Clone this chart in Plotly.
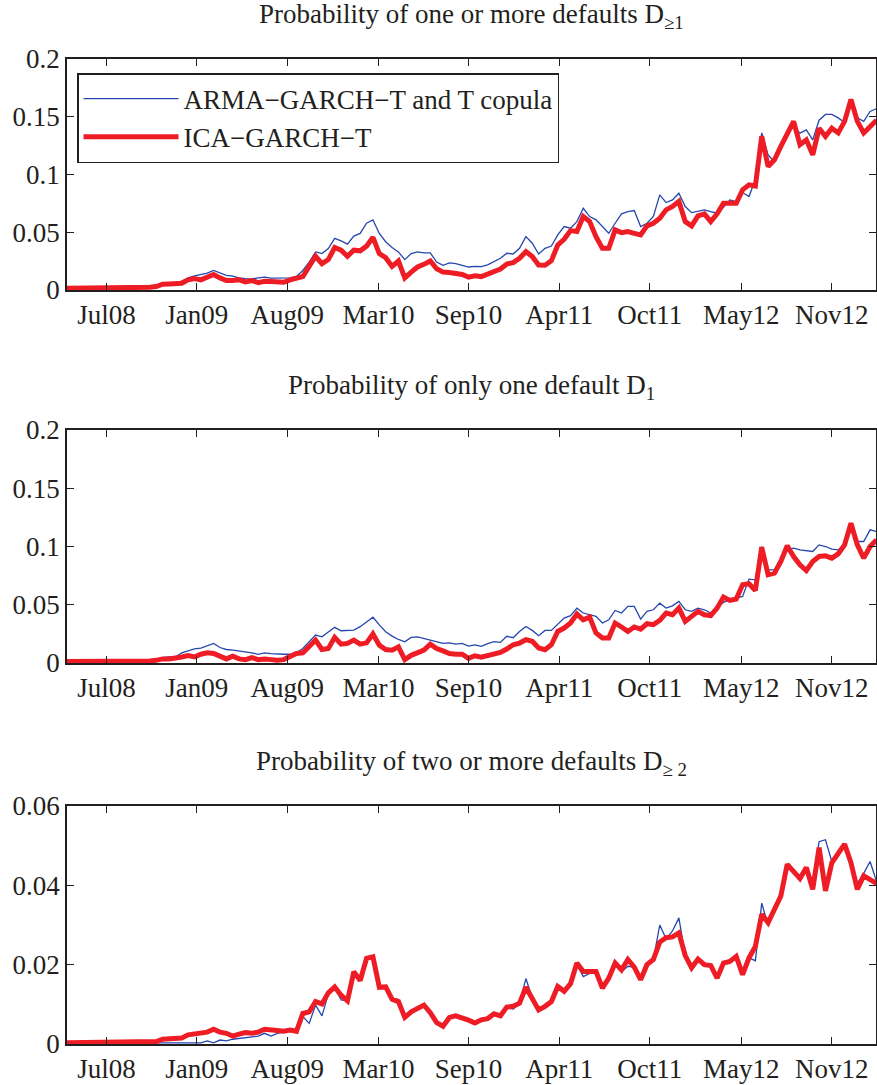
import pandas as pd
import plotly.graph_objects as go

# Observation dates: fortnightly sampling from April 2008 to early 2013
dates = pd.date_range("2008-04-19", periods=128, freq="14D")

tick_dates = ["2008-07-15", "2009-01-29", "2009-08-16", "2010-03-04", "2010-09-18",
              "2011-04-05", "2011-10-21", "2012-05-09", "2012-11-24"]
tick_labels = ["Jul08", "Jan09", "Aug09", "Mar10", "Sep10", "Apr11", "Oct11", "May12", "Nov12"]

# Probability of one or more defaults
ge1_copula = [
    0.0015, 0.0015, 0.0015, 0.0015, 0.0015, 0.0015, 0.0015, 0.0018, 0.0020, 0.0023,
    0.0020, 0.0020, 0.0020, 0.0023, 0.0030, 0.0050, 0.0055, 0.0060, 0.0076, 0.0105,
    0.0123, 0.0134, 0.0146, 0.0169, 0.0146, 0.0126, 0.0120, 0.0105, 0.0099, 0.0096,
    0.0105, 0.0111, 0.0102, 0.0102, 0.0102, 0.0105, 0.0117, 0.0169, 0.0242, 0.0330,
    0.0315, 0.0359, 0.0447, 0.0426, 0.0397, 0.0467, 0.0490, 0.0578, 0.0607, 0.0490,
    0.0418, 0.0368, 0.0330, 0.0263, 0.0315, 0.0330, 0.0321, 0.0321, 0.0242, 0.0213,
    0.0234, 0.0228, 0.0213, 0.0199, 0.0204, 0.0202, 0.0217, 0.0246, 0.0275, 0.0318,
    0.0312, 0.0361, 0.0462, 0.0405, 0.0312, 0.0361, 0.0381, 0.0477, 0.0549, 0.0535,
    0.0592, 0.0708, 0.0636, 0.0607, 0.0549, 0.0491, 0.0578, 0.0659, 0.0679, 0.0688,
    0.0549, 0.0578, 0.0636, 0.0824, 0.0757, 0.0780, 0.0838, 0.0723, 0.0670, 0.0679,
    0.0694, 0.0679, 0.0665, 0.0717, 0.0780, 0.0766, 0.0844, 0.0809, 0.0954, 0.1360,
    0.1170, 0.1110, 0.1243, 0.1358, 0.1416, 0.1358, 0.1387, 0.1300, 0.1470, 0.1520,
    0.1520, 0.1490, 0.1450, 0.1630, 0.1490, 0.1460, 0.1546, 0.1570,
]
ge1_ica = [
    0.0015, 0.0015, 0.0015, 0.0015, 0.0015, 0.0015, 0.0015, 0.0018, 0.0020, 0.0023,
    0.0020, 0.0020, 0.0020, 0.0023, 0.0030, 0.0050, 0.0053, 0.0053, 0.0058, 0.0088,
    0.0099, 0.0088, 0.0117, 0.0134, 0.0105, 0.0082, 0.0082, 0.0088, 0.0070, 0.0082,
    0.0064, 0.0076, 0.0073, 0.0070, 0.0067, 0.0088, 0.0105, 0.0117, 0.0204, 0.0292,
    0.0228, 0.0263, 0.0368, 0.0345, 0.0292, 0.0345, 0.0339, 0.0380, 0.0456, 0.0315,
    0.0280, 0.0204, 0.0251, 0.0105, 0.0155, 0.0199, 0.0222, 0.0251, 0.0184, 0.0155,
    0.0152, 0.0146, 0.0134, 0.0111, 0.0123, 0.0116, 0.0139, 0.0153, 0.0182, 0.0225,
    0.0237, 0.0275, 0.0332, 0.0289, 0.0217, 0.0214, 0.0254, 0.0390, 0.0439, 0.0514,
    0.0506, 0.0636, 0.0592, 0.0462, 0.0361, 0.0361, 0.0520, 0.0497, 0.0506, 0.0491,
    0.0477, 0.0555, 0.0578, 0.0621, 0.0694, 0.0723, 0.0766, 0.0592, 0.0555, 0.0642,
    0.0659, 0.0592, 0.0659, 0.0751, 0.0751, 0.0751, 0.0867, 0.0910, 0.0900, 0.1330,
    0.1070, 0.1127, 0.1243, 0.1358, 0.1460, 0.1257, 0.1300, 0.1170, 0.1400, 0.1330,
    0.1400, 0.1360, 0.1460, 0.1650, 0.1460, 0.1360, 0.1416, 0.1470,
]

# Probability of exactly one default
eq1_copula = [
    0.0012, 0.0012, 0.0012, 0.0012, 0.0012, 0.0012, 0.0012, 0.0017, 0.0017, 0.0017,
    0.0017, 0.0017, 0.0017, 0.0017, 0.0025, 0.0046, 0.0052, 0.0052, 0.0087, 0.0104,
    0.0121, 0.0127, 0.0145, 0.0168, 0.0133, 0.0116, 0.0110, 0.0104, 0.0092, 0.0087,
    0.0075, 0.0087, 0.0081, 0.0075, 0.0075, 0.0075, 0.0087, 0.0124, 0.0182, 0.0240,
    0.0225, 0.0269, 0.0306, 0.0277, 0.0283, 0.0283, 0.0312, 0.0355, 0.0393, 0.0327,
    0.0269, 0.0231, 0.0202, 0.0182, 0.0220, 0.0225, 0.0211, 0.0202, 0.0182, 0.0168,
    0.0173, 0.0162, 0.0168, 0.0145, 0.0155, 0.0143, 0.0166, 0.0183, 0.0177, 0.0229,
    0.0217, 0.0271, 0.0314, 0.0280, 0.0234, 0.0280, 0.0280, 0.0329, 0.0386, 0.0406,
    0.0470, 0.0429, 0.0417, 0.0400, 0.0343, 0.0371, 0.0451, 0.0429, 0.0486, 0.0486,
    0.0377, 0.0443, 0.0457, 0.0514, 0.0471, 0.0491, 0.0529, 0.0457, 0.0443, 0.0471,
    0.0457, 0.0429, 0.0486, 0.0520, 0.0543, 0.0557, 0.0571, 0.0720, 0.0714, 0.1000,
    0.0800, 0.0800, 0.0900, 0.0971, 0.0986, 0.0971, 0.0966, 0.0957, 0.1014, 0.1000,
    0.0977, 0.0971, 0.1014, 0.1200, 0.1043, 0.1043, 0.1143, 0.1129,
]
eq1_ica = [
    0.0012, 0.0012, 0.0012, 0.0012, 0.0012, 0.0012, 0.0012, 0.0017, 0.0017, 0.0017,
    0.0017, 0.0017, 0.0017, 0.0017, 0.0023, 0.0035, 0.0035, 0.0040, 0.0052, 0.0064,
    0.0052, 0.0075, 0.0087, 0.0081, 0.0058, 0.0035, 0.0058, 0.0035, 0.0029, 0.0046,
    0.0029, 0.0035, 0.0029, 0.0023, 0.0029, 0.0058, 0.0081, 0.0087, 0.0139, 0.0197,
    0.0116, 0.0124, 0.0220, 0.0162, 0.0168, 0.0197, 0.0162, 0.0173, 0.0249, 0.0153,
    0.0116, 0.0110, 0.0139, 0.0029, 0.0066, 0.0087, 0.0110, 0.0162, 0.0124, 0.0104,
    0.0081, 0.0075, 0.0075, 0.0040, 0.0062, 0.0049, 0.0063, 0.0071, 0.0091, 0.0120,
    0.0157, 0.0171, 0.0200, 0.0186, 0.0129, 0.0114, 0.0157, 0.0271, 0.0300, 0.0343,
    0.0420, 0.0371, 0.0394, 0.0257, 0.0214, 0.0214, 0.0343, 0.0309, 0.0271, 0.0309,
    0.0291, 0.0337, 0.0329, 0.0366, 0.0429, 0.0414, 0.0471, 0.0357, 0.0394, 0.0443,
    0.0414, 0.0406, 0.0471, 0.0566, 0.0537, 0.0549, 0.0671, 0.0680, 0.0623, 0.0994,
    0.0757, 0.0771, 0.0871, 0.1006, 0.0914, 0.0843, 0.0794, 0.0871, 0.0914, 0.0920,
    0.0900, 0.0937, 0.1014, 0.1200, 0.1014, 0.0900, 0.1000, 0.1057,
]

# Probability of two or more defaults
ge2_copula = [
    0.0003, 0.0003, 0.0003, 0.0003, 0.0003, 0.0003, 0.0003, 0.0003, 0.0003, 0.0003,
    0.0003, 0.0003, 0.0003, 0.0003, 0.0003, 0.0003, 0.0003, 0.0003, 0.0003, 0.0003,
    0.0003, 0.0003, 0.0008, 0.0003, 0.0010, 0.0008, 0.0012, 0.0014, 0.0017, 0.0018,
    0.0020, 0.0027, 0.0020, 0.0027, 0.0030, 0.0034, 0.0032, 0.0069, 0.0052, 0.0098,
    0.0071, 0.0126, 0.0143, 0.0111, 0.0109, 0.0182, 0.0160, 0.0216, 0.0220, 0.0143,
    0.0144, 0.0113, 0.0107, 0.0067, 0.0081, 0.0090, 0.0098, 0.0079, 0.0054, 0.0045,
    0.0067, 0.0071, 0.0067, 0.0060, 0.0054, 0.0060, 0.0064, 0.0076, 0.0072, 0.0091,
    0.0088, 0.0103, 0.0165, 0.0116, 0.0082, 0.0090, 0.0103, 0.0143, 0.0130, 0.0152,
    0.0200, 0.0170, 0.0178, 0.0180, 0.0150, 0.0166, 0.0200, 0.0182, 0.0196, 0.0194,
    0.0162, 0.0200, 0.0213, 0.0300, 0.0265, 0.0285, 0.0318, 0.0223, 0.0190, 0.0214,
    0.0200, 0.0195, 0.0166, 0.0200, 0.0210, 0.0218, 0.0175, 0.0217, 0.0210, 0.0355,
    0.0300, 0.0341, 0.0373, 0.0445, 0.0440, 0.0420, 0.0445, 0.0410, 0.0510, 0.0515,
    0.0460, 0.0475, 0.0500, 0.0460, 0.0405, 0.0430, 0.0460, 0.0410,
]
ge2_ica = [
    0.0003, 0.0003, 0.0003, 0.0003, 0.0003, 0.0003, 0.0003, 0.0005, 0.0005, 0.0005,
    0.0005, 0.0005, 0.0005, 0.0005, 0.0006, 0.0012, 0.0013, 0.0013, 0.0015, 0.0023,
    0.0025, 0.0029, 0.0030, 0.0037, 0.0030, 0.0027, 0.0020, 0.0025, 0.0029, 0.0027,
    0.0030, 0.0037, 0.0034, 0.0034, 0.0032, 0.0035, 0.0032, 0.0077, 0.0081, 0.0107,
    0.0101, 0.0129, 0.0144, 0.0123, 0.0109, 0.0182, 0.0160, 0.0216, 0.0220, 0.0143,
    0.0144, 0.0113, 0.0107, 0.0067, 0.0081, 0.0090, 0.0098, 0.0079, 0.0054, 0.0045,
    0.0067, 0.0071, 0.0067, 0.0060, 0.0053, 0.0061, 0.0064, 0.0076, 0.0071, 0.0093,
    0.0095, 0.0103, 0.0143, 0.0116, 0.0086, 0.0095, 0.0107, 0.0145, 0.0133, 0.0152,
    0.0204, 0.0183, 0.0183, 0.0183, 0.0141, 0.0166, 0.0204, 0.0187, 0.0213, 0.0194,
    0.0162, 0.0200, 0.0213, 0.0257, 0.0268, 0.0270, 0.0280, 0.0223, 0.0192, 0.0214,
    0.0200, 0.0198, 0.0166, 0.0204, 0.0208, 0.0221, 0.0175, 0.0217, 0.0246, 0.0327,
    0.0306, 0.0341, 0.0373, 0.0453, 0.0436, 0.0417, 0.0445, 0.0390, 0.0495, 0.0386,
    0.0457, 0.0483, 0.0504, 0.0457, 0.0390, 0.0424, 0.0415, 0.0405,
]

panels = [
    ("Probability of one or more defaults D<sub>≥1</sub>", ge1_copula, ge1_ica,
     [0, 0.05, 0.1, 0.15, 0.2], ["0", "0.05", "0.1", "0.15", "0.2"], [0, 0.2]),
    ("Probability of only one default D<sub>1</sub>", eq1_copula, eq1_ica,
     [0, 0.05, 0.1, 0.15, 0.2], ["0", "0.05", "0.1", "0.15", "0.2"], [0, 0.2]),
    ("Probability of two or more defaults D<sub>≥ 2</sub>", ge2_copula, ge2_ica,
     [0, 0.02, 0.04, 0.06], ["0", "0.02", "0.04", "0.06"], [0, 0.06]),
]

W, H = 877, 1085
# vertical pixel extent (top, bottom) of each axes box
boxes = [(59, 290), (430, 663), (806, 1044)]

FONT = "Liberation Serif"
TXT = "#231F20"
BLUE = "#2546AE"
RED = "#EE1D25"

fig = go.Figure()
layout = dict(
    width=W, height=H,
    margin=dict(l=67, r=1, t=0, b=0, autoexpand=False),
    paper_bgcolor="white", plot_bgcolor="white",
    font=dict(family=FONT, size=27, color=TXT),
    showlegend=True,
    annotations=[],
)

for k, (title, blue, red, yt, ytt, yr) in enumerate(panels):
    n = "" if k == 0 else str(k + 1)
    top, bot = boxes[k]
    fig.add_trace(go.Scatter(
        x=dates, y=blue, mode="lines", name="ARMA−GARCH−T and T copula",
        line=dict(color=BLUE, width=1.3), xaxis="x" + n, yaxis="y" + n,
        showlegend=(k == 0),
    ))
    fig.add_trace(go.Scatter(
        x=dates, y=red, mode="lines", name="ICA−GARCH−T",
        line=dict(color=RED, width=5), xaxis="x" + n, yaxis="y" + n,
        showlegend=(k == 0),
    ))
    layout["xaxis" + n] = dict(
        domain=[0, 1], anchor="y" + n, type="date", automargin=False,
        range=["2008-04-19", "2013-03-01"],
        tickmode="array", tickvals=tick_dates, ticktext=tick_labels,
        ticks="inside", ticklen=7, tickwidth=1.3, tickcolor="#231F20",
        showline=True, linecolor="#231F20", linewidth=1.6, mirror="ticks",
        showgrid=False, zeroline=False,
        tickfont=dict(family=FONT, size=27, color=TXT),
    )
    layout["yaxis" + n] = dict(
        domain=[1 - bot / H, 1 - top / H], anchor="x" + n, automargin=False,
        range=yr, tickmode="array", tickvals=yt, ticktext=ytt,
        ticks="inside", ticklen=7, tickwidth=1.3, tickcolor="#231F20",
        showline=True, linecolor="#231F20", linewidth=1.6, mirror="ticks",
        showgrid=False, zeroline=False,
        tickfont=dict(family=FONT, size=27, color=TXT),
    )
    layout["annotations"].append(dict(
        text=title, xref="paper", yref="paper", x=0.5, y=1 - (top - 43) / H,
        xanchor="center", yanchor="middle", showarrow=False,
        font=dict(family=FONT, size=27, color=TXT),
    ))

layout["legend"] = dict(
    x=(77 - 67) / 809, y=1 - 73 / H, xanchor="left", yanchor="top",
    bgcolor="white", bordercolor="#231F20", borderwidth=1.5,
    font=dict(family=FONT, size=27, color=TXT),
    itemwidth=95, tracegroupgap=0,
)

fig.update_layout(**layout)
fig.write_html("out.html")
